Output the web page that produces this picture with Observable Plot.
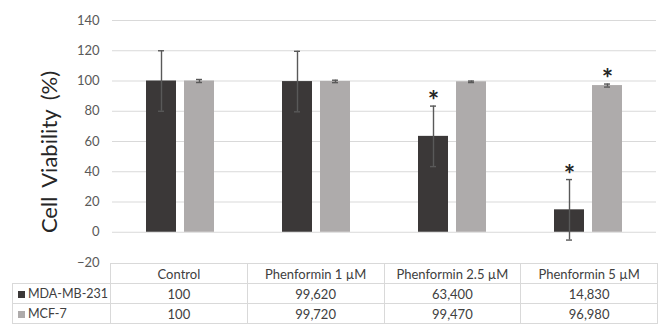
<!DOCTYPE html>
<html><head><meta charset="utf-8">
<script src="https://cdn.jsdelivr.net/npm/d3@7"></script>
<script src="https://cdn.jsdelivr.net/npm/@observablehq/plot@0.6"></script>
<style>
body{margin:0;background:#fff;}
#wrap{position:relative;width:660px;height:324px;overflow:hidden;font-family:Lato,"Open Sans",sans-serif;}
#wrap svg{position:absolute;left:0;top:0;}
#ylabel{position:absolute;left:48px;top:152px;transform:translate(-50%,-50%) rotate(-90deg);font-size:22px;color:#262626;white-space:nowrap;word-spacing:4px;}
table{position:absolute;left:12px;top:263px;border-collapse:collapse;table-layout:fixed;font-size:13px;color:#404040;}
td{border:1px solid #d9d9d9;height:19px;padding:0;text-align:center;white-space:nowrap;}
td.lab{text-align:left;padding-left:5px;font-size:12.5px;}
td.empty{border-top:none;border-left:none;}
.key{display:inline-block;width:7px;height:7px;margin-right:3px;vertical-align:0px;}
</style></head>
<body><div id="wrap"><div id="ylabel">Cell Viability (%)</div></div>
<script>
const categories = ["Control", "Phenformin 1 µM", "Phenformin 2.5 µM", "Phenformin 5 µM"];
const series = ["MDA-MB-231", "MCF-7"];
const mdaValues = [100, 99.62, 63.4, 14.83];
const mcfValues = [100, 99.72, 99.47, 96.98];
const mdaErrors = [20, 20, 20, 20];
const mcfErrors = [1, 0.8, 0.5, 1];
const mdaSignificant = [false, false, true, true];
const mcfSignificant = [false, false, false, true];
const yTicks = [-20, 0, 20, 40, 60, 80, 100, 120, 140];
const colors = ["#3b3838", "#aeabab"];

const valuesBySeries = [mdaValues, mcfValues];
const errorsBySeries = [mdaErrors, mcfErrors];
const sigBySeries = [mdaSignificant, mcfSignificant];
const rows = [];
categories.forEach((c, i) => series.forEach((s, j) => {
  const v = valuesBySeries[j][i], e = errorsBySeries[j][i];
  rows.push({category: c, series: s, value: v, lo: v - e, hi: v + e, sig: sigBySeries[j][i]});
}));

const chart = Plot.plot({
  width: 660, height: 270,
  marginLeft: 110, marginRight: 3, marginTop: 20, marginBottom: 8,
  style: {fontFamily: "Lato, 'Open Sans', sans-serif", background: "transparent"},
  fx: {domain: categories, padding: 0, axis: null},
  x: {domain: series, paddingInner: 0.21, paddingOuter: 0.88, axis: null},
  y: {domain: [-20, 140]},
  color: {domain: series, range: colors},
  marks: [
    Plot.gridY(yTicks.filter(t => t > -20), {stroke: "#d9d9d9", strokeOpacity: 1, strokeWidth: 1}),
    Plot.axisY(yTicks, {tickSize: 0, tickPadding: 13, fontSize: 13, color: "#595959", label: null}),
    Plot.barY(rows, {fx: "category", x: "series", y: "value", fill: "series"}),
    Plot.ruleX(rows, {fx: "category", x: "series", y1: "lo", y2: "hi", stroke: "#595959", strokeWidth: 1.4}),
    Plot.tickY(rows, {fx: "category", x: "series", y: "hi", insetLeft: 12, insetRight: 12, stroke: "#595959", strokeWidth: 1.4}),
    Plot.tickY(rows, {fx: "category", x: "series", y: "lo", insetLeft: 12, insetRight: 12, stroke: "#595959", strokeWidth: 1.4}),
    Plot.text(rows.filter(d => d.sig), {fx: "category", x: "series", y: "hi", text: () => "*", fontSize: 27, fontWeight: "bold", fill: "#262626", lineAnchor: "bottom", dy: 4})
  ]
});
const wrap = document.getElementById("wrap");
wrap.insertBefore(chart, wrap.firstChild);

const fmt = v => Number.isInteger(v) ? String(v) : v.toFixed(3).replace(".", ",");
const table = document.createElement("table");
let html = '<colgroup><col style="width:98px">' + categories.map(() => '<col style="width:136.75px">').join("") + '</colgroup>';
html += '<tr><td class="empty"></td>' + categories.map(c => `<td>${c}</td>`).join("") + '</tr>';
series.forEach((s, j) => {
  html += `<tr><td class="lab"><span class="key" style="background:${colors[j]}"></span>${s}</td>` +
    valuesBySeries[j].map(v => `<td>${fmt(v)}</td>`).join("") + '</tr>';
});
table.innerHTML = html;
wrap.appendChild(table);
</script>
</body></html>
